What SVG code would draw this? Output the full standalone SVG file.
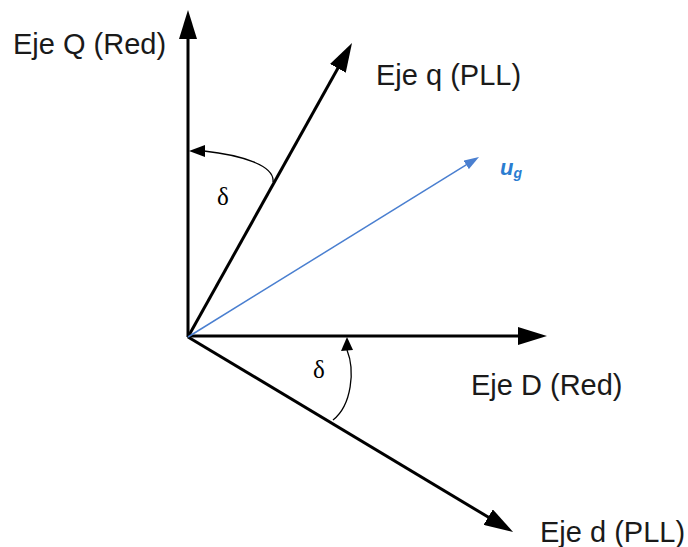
<svg xmlns="http://www.w3.org/2000/svg" width="688" height="547" viewBox="0 0 688 547">
<style>
.axis{stroke:#000;stroke-width:3;fill:none}
.arc{stroke:#000;stroke-width:1.3;fill:none}
.lbl{font-family:"Liberation Sans",Arial,sans-serif;font-size:29px;fill:#1a1a1a}
.dl{font-family:"Liberation Serif","Times New Roman",serif;font-size:25px;fill:#000}
.ug{font-family:"Liberation Sans",Arial,sans-serif;font-weight:bold;font-style:italic;fill:#2a7dd1}
</style>
<defs>
<marker id="big" viewBox="0 0 29 18" refX="14" refY="9" markerWidth="29" markerHeight="18" markerUnits="userSpaceOnUse" orient="auto">
<path d="M0,0 L29,9 L0,18 z" fill="#000"/>
</marker>
<marker id="blue" viewBox="0 0 15 10" refX="7" refY="5" markerWidth="15" markerHeight="10" markerUnits="userSpaceOnUse" orient="auto">
<path d="M0,0 L15,5 L0,10 z" fill="#4a7fd0"/>
</marker>
</defs>
<rect width="688" height="547" fill="#fff"/>
<g id="connectors">
<line id="axis-Q" class="axis" x1="188" y1="337" x2="188" y2="25" marker-end="url(#big)"/>
<line id="axis-D" class="axis" x1="187" y1="336" x2="532" y2="336" marker-end="url(#big)"/>
<line id="axis-q" class="axis" x1="188" y1="337" x2="344.7" y2="56.1" marker-end="url(#big)"/>
<line id="axis-d" class="axis" x1="188" y1="337" x2="500.2" y2="524.3" marker-end="url(#big)"/>
<line id="vec-ug" x1="188" y1="337" x2="472.2" y2="161.2" stroke="#4a7fd0" stroke-width="1.5" marker-end="url(#blue)"/>
<path id="arc-top" class="arc" d="M273 182 C275 165,240 155,204 151"/>
<polygon points="189,151 205,145 205,157" fill="#000"/>
<path id="arc-bottom" class="arc" d="M333 420 C352 405,355 370,347 350"/>
<polygon points="347,337 341,351 353,350" fill="#000"/>
</g>
<g id="label-Q"><text class="lbl" x="13" y="54">Eje Q (Red)</text></g>
<g id="label-q"><text class="lbl" x="376" y="85">Eje q (PLL)</text></g>
<g id="label-D"><text class="lbl" x="471" y="395">Eje D (Red)</text></g>
<g id="label-d"><text class="lbl" x="540" y="542">Eje d (PLL)</text></g>
<g id="delta-top"><text class="dl" x="217" y="205">δ</text></g>
<g id="delta-bottom"><text class="dl" x="313" y="378">δ</text></g>
<g id="label-ug"><text class="ug" x="500" y="175" font-size="22">u<tspan font-size="14" dy="3">g</tspan></text></g>
</svg>
